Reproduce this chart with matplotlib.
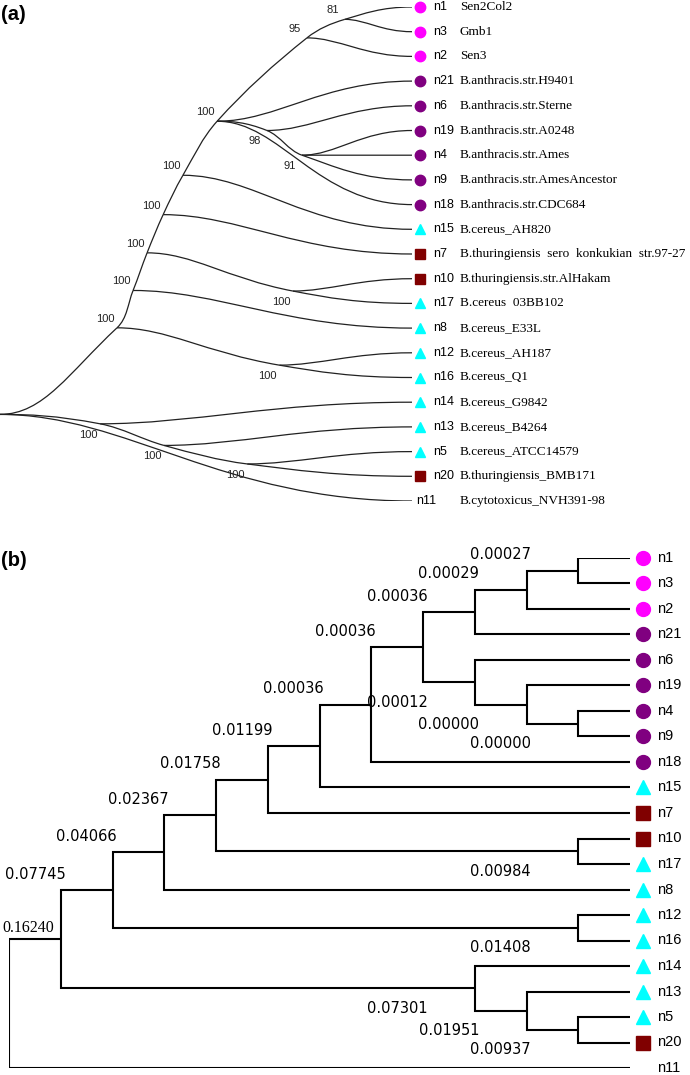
import numpy as np
import matplotlib
matplotlib.use("Agg")
import matplotlib.pyplot as plt
from matplotlib.path import Path
from matplotlib.patches import PathPatch
from matplotlib.transforms import offset_copy

plt.rcParams['font.family'] = ['Liberation Sans', 'DejaVu Sans']

# leaves, top to bottom (same order in both panels)
LEAVES = ['n1', 'n3', 'n2', 'n21', 'n6', 'n19', 'n4', 'n9', 'n18', 'n15', 'n7',
          'n10', 'n17', 'n8', 'n12', 'n16', 'n14', 'n13', 'n5', 'n20', 'n11']
GROUPS = ['sen', 'sen', 'sen', 'anth', 'anth', 'anth', 'anth', 'anth', 'anth', 'cer', 'thu',
          'thu', 'cer', 'cer', 'cer', 'cer', 'cer', 'cer', 'cer', 'thu', None]
STRAINS = ['Sen2Col2', 'Gmb1', 'Sen3', 'B.anthracis.str.H9401', 'B.anthracis.str.Sterne',
           'B.anthracis.str.A0248', 'B.anthracis.str.Ames', 'B.anthracis.str.AmesAncestor',
           'B.anthracis.str.CDC684', 'B.cereus_AH820', 'B.thuringiensis  sero  konkukian  str.97-27',
           'B.thuringiensis.str.AlHakam', 'B.cereus  03BB102', 'B.cereus_E33L', 'B.cereus_AH187',
           'B.cereus_Q1', 'B.cereus_G9842', 'B.cereus_B4264', 'B.cereus_ATCC14579',
           'B.thuringiensis_BMB171', 'B.cytotoxicus_NVH391-98']

# (a) bootstrap consensus tree, children listed top to bottom
TREE_A = {
    'root': ['Z', 'A', 'n11'],
    'Z': ['W', 'c1216'], 'W': ['V', 'n8'], 'V': ['U', 'c1017'], 'U': ['T', 'n7'],
    'T': ['S', 'n15'], 'S': ['sen', 'n21', 'ant98', 'n18'],
    'sen': ['sen81', 'n2'], 'sen81': ['n1', 'n3'],
    'ant98': ['n6', 'ant91'], 'ant91': ['n19', 'n4', 'n9'],
    'c1017': ['n10', 'n17'], 'c1216': ['n12', 'n16'],
    'A': ['n14', 'B'], 'B': ['n13', 'C'], 'C': ['n5', 'n20'],
}
# node depth as fraction of the tip position
DEPTH_A = {'Z': 0.284, 'W': 0.323, 'V': 0.357, 'U': 0.396, 'T': 0.444, 'S': 0.527,
           'sen': 0.745, 'sen81': 0.837, 'ant98': 0.648, 'ant91': 0.733,
           'c1017': 0.711, 'c1216': 0.678, 'A': 0.243, 'B': 0.398, 'C': 0.600}
BOOT_A = {'Z': 100, 'W': 100, 'V': 100, 'U': 100, 'T': 100, 'S': 100, 'sen': 95,
          'sen81': 81, 'ant98': 98, 'ant91': 91, 'c1017': 100, 'c1216': 100,
          'A': 100, 'B': 100, 'C': 100}

# (b) tree with branch lengths
TREE_B = {
    'root': ['X', 'n11'], 'X': ['Z', 'Y'], 'Z': ['W', 'c1216'], 'W': ['V', 'n8'],
    'V': ['U', 'c1017'], 'U': ['T', 'n7'], 'T': ['S', 'n15'], 'S': ['R', 'n18'],
    'R': ['Q', 'ant'], 'Q': ['P', 'n21'], 'P': ['c13', 'n2'], 'c13': ['n1', 'n3'],
    'ant': ['n6', 'g19'], 'g19': ['n19', 'c49'], 'c49': ['n4', 'n9'],
    'c1017': ['n10', 'n17'], 'c1216': ['n12', 'n16'],
    'Y': ['n14', 'g13'], 'g13': ['n13', 'c520'], 'c520': ['n5', 'n20'],
}
BRANCH_B = {'c13': '0.00027', 'P': '0.00029', 'Q': '0.00036', 'R': '0.00036', 'S': '0.00036',
            'T': '0.01199', 'U': '0.01758', 'V': '0.02367', 'W': '0.04066', 'Z': '0.07745',
            'X': '0.16240', 'ant': '0.00012', 'g19': '0.00000', 'c49': '0.00000',
            'c1017': '0.00984', 'c1216': '0.01408', 'Y': '0.07301', 'g13': '0.01951',
            'c520': '0.00937'}

MARKERS = {'sen': ('o', '#ff00ff'), 'anth': ('o', '#800080'),
           'cer': ('^', '#00ffff'), 'thu': ('s', '#800000')}


def parents_of(tree):
    return {c: p for p, kids in tree.items() for c in kids}


def rows_of(tree, node, out):
    if node not in tree:
        out[node] = LEAVES.index(node)
        return out
    for c in tree[node]:
        rows_of(tree, c, out)
    kids = tree[node]
    out[node] = (out[kids[0]] + out[kids[-1]]) / 2
    return out


def heights_of(tree, node, out):
    if node not in tree:
        out[node] = 0
    else:
        out[node] = 1 + max(heights_of(tree, c, out)[c] for c in tree[node])
    return out


def draw_leaves(ax, x_tip, rows, ms, dx_mark, dx_lab, lab_size, no_mark_dx):
    shift = lambda dx: offset_copy(ax.transData, fig=fig, x=dx, y=0, units='dots')
    for g, (m, col) in MARKERS.items():
        ys = [rows[l] for l, gg in zip(LEAVES, GROUPS) if gg == g]
        size = ms * (1.05 if m == '^' else 0.95 if m == 's' else 1.0)
        ax.plot([x_tip] * len(ys), ys, m, color=col, ms=size, ls='none',
                transform=shift(dx_mark), clip_on=False)
    for leaf, g in zip(LEAVES, GROUPS):
        ax.text(x_tip, rows[leaf], leaf, transform=shift(dx_lab if g else no_mark_dx),
                va='center', ha='left', fontsize=lab_size)


fig = plt.figure(figsize=(6.9, 10.75), dpi=100)
W, H = 690, 1075

# ---------------- (a) curved consensus tree ----------------
ax_a = fig.add_axes([0, 1 - 501 / H, 412 / W, 494 / H])
ax_a.set_xlim(0, 1)
ax_a.set_ylim(20, 0)
ax_a.axis('off')

rows_a = rows_of(TREE_A, 'root', {})
par_a = parents_of(TREE_A)
depth_a = {n: DEPTH_A.get(n, 1.0) for n in rows_a}
depth_a['root'] = 0.0
px = {n: ax_a.transData.transform((depth_a[n], rows_a[n])) for n in rows_a}

# tangent at each internal node follows the branch that keeps going the same way
cont, tang = {}, {}
for n, kids in TREE_A.items():
    if n == 'root':
        continue
    up = px[n][1] > px[par_a[n]][1]
    k = kids[0] if up else kids[-1]
    v = px[k] - px[par_a[n]]
    cont[n] = k
    tang[n] = v / np.hypot(*v)

flat = np.array([1.0, 0.0])
inv = ax_a.transData.inverted()
for p, kids in TREE_A.items():
    for c in kids:
        p0, p3 = px[p], px[c]
        L = np.hypot(*(p3 - p0))
        along = cont.get(p) == c
        sd = tang[p] if along else flat
        ed = tang[c] if c in TREE_A else flat
        k0, k1 = (0.35, 0.35) if (along and c in TREE_A) else (0.3, 0.45)
        verts = inv.transform(np.array([p0, p0 + k0 * L * sd, p3 - k1 * L * ed, p3]))
        ax_a.add_patch(PathPatch(Path(verts, [Path.MOVETO] + [Path.CURVE4] * 3),
                                 fill=False, lw=0.9, ec='#222222'))

for n, v in BOOT_A.items():
    up = px[n][1] > px[par_a[n]][1]
    ax_a.annotate(str(v), (depth_a[n], rows_a[n]), xytext=(-12, 9 if up else -11),
                  textcoords='offset pixels', ha='center', va='center', fontsize=8,
                  color='#222222', annotation_clip=False)

draw_leaves(ax_a, 1.0, rows_a, 7.5, 8, 21, 9, 4)
sp = offset_copy(ax_a.transData, fig=fig, x=48, y=0, units='dots')
for leaf, name in zip(LEAVES, STRAINS):
    ax_a.text(1.0, rows_a[leaf], name, transform=sp, va='center', ha='left',
              fontsize=9.5, family='Liberation Serif')

fig.text(1 / W, 1 - 14 / H, '(a)', fontsize=14.5, fontweight='bold', va='center', ha='left')

# ---------------- (b) rectangular tree with branch lengths ----------------
ax_b = fig.add_axes([9 / W, 1 - 1068 / H, 621 / W, 510 / H])
rows_b = rows_of(TREE_B, 'root', {})
par_b = parents_of(TREE_B)
hts = heights_of(TREE_B, 'root', {})
x_b = {n: hts['root'] - h for n, h in hts.items()}
ax_b.set_xlim(0, hts['root'])
ax_b.set_ylim(20, 0)
ax_b.axis('off')

for n, kids in TREE_B.items():
    a, b = kids[0], kids[-1]
    ax_b.plot([x_b[a], x_b[n], x_b[n], x_b[b]], [rows_b[a], rows_b[a], rows_b[b], rows_b[b]],
              color='black', lw=1.5, solid_joinstyle='miter', solid_capstyle='butt')

for n, txt in BRANCH_B.items():
    first = TREE_B[par_b[n]][0] == n
    lx = x_b[n] - 1.5
    if lx < 0:
        ax_b.annotate(txt, (0, rows_b[n]), xytext=(-7, 11), textcoords='offset pixels',
                      ha='left', va='center', fontsize=11.5, family='Liberation Serif',
                      annotation_clip=False)
        continue
    ax_b.annotate(txt, (lx, rows_b[n]), xytext=(0, 16 if first else -20),
                  textcoords='offset pixels', ha='center', va='center', fontsize=10.5,
                  family='DejaVu Sans', annotation_clip=False)

draw_leaves(ax_b, hts['root'], rows_b, 10, 13, 27, 10.5, 27)

fig.text(1 / W, 1 - 560 / H, '(b)', fontsize=14.5, fontweight='bold', va='center', ha='left')

fig.savefig('out.png', dpi=100)
